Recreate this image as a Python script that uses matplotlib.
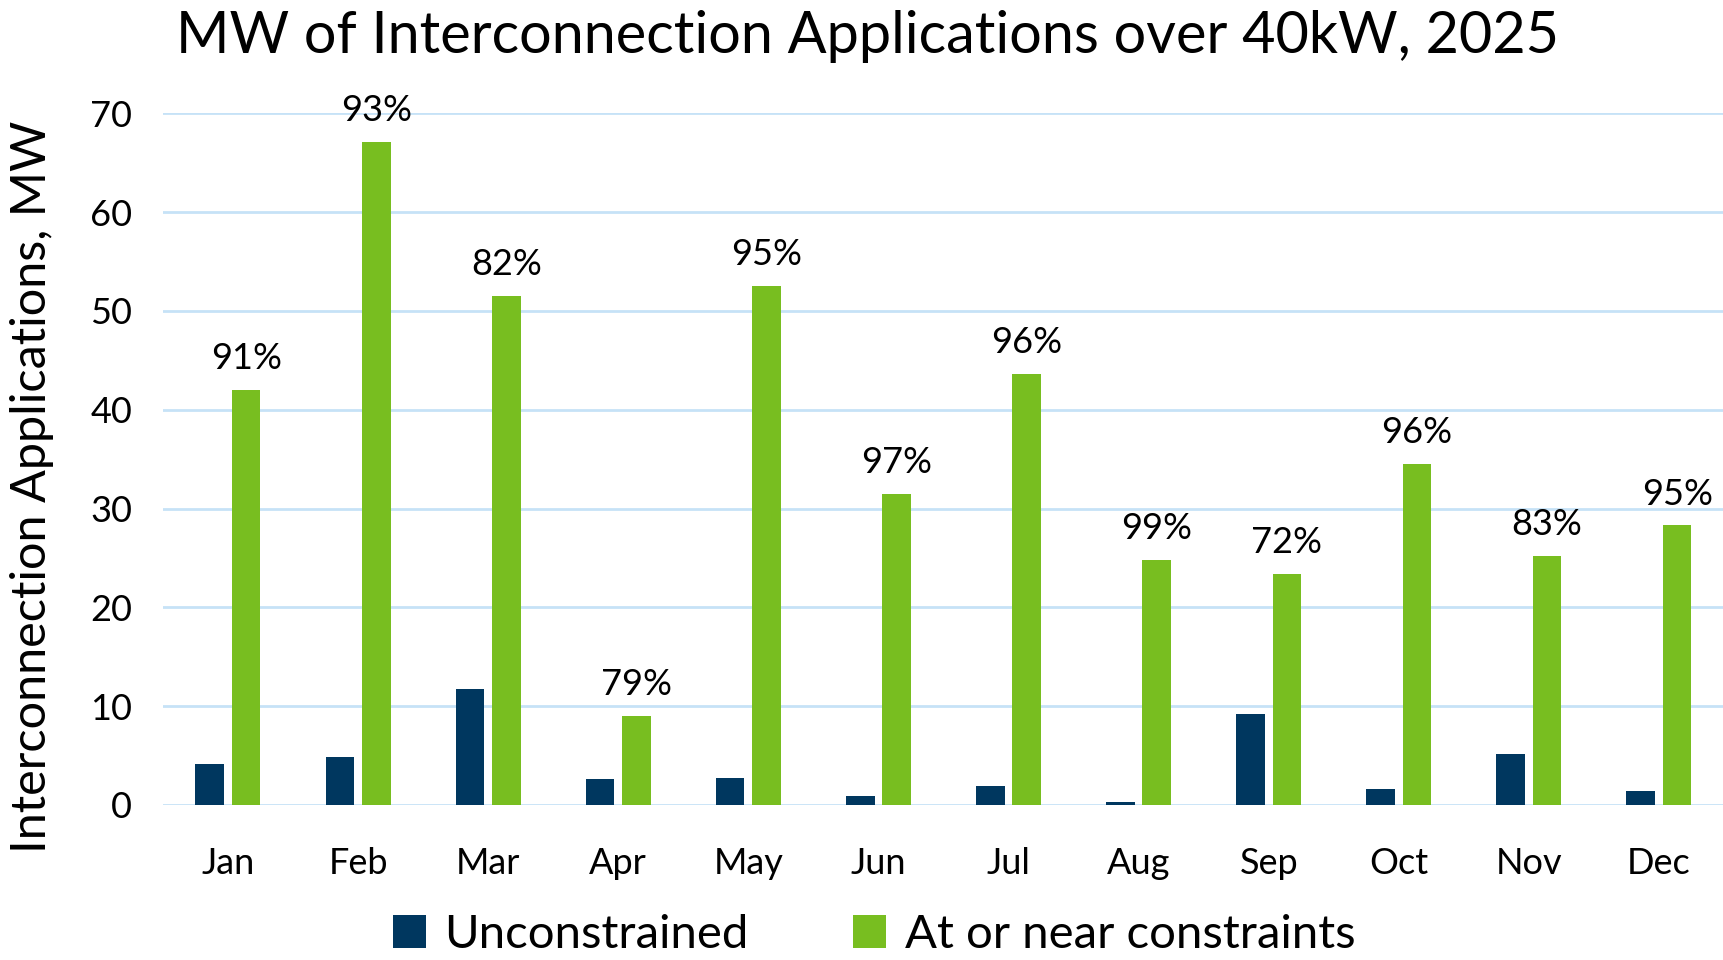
import matplotlib.pyplot as plt
import numpy as np

plt.rcParams['font.family'] = ['Lato', 'DejaVu Sans']

# Dati
months = ['Jan', 'Feb', 'Mar', 'Apr', 'May', 'Jun',
          'Jul', 'Aug', 'Sep', 'Oct', 'Nov', 'Dec']
unconstrained = [4.1, 4.9, 11.7, 2.6, 2.7, 0.9, 1.9, 0.3, 9.2, 1.6, 5.2, 1.4]
constrained = [42.0, 67.1, 51.5, 9.0, 52.5, 31.5, 43.6, 24.8, 23.4, 34.5, 25.2, 28.3]
pct_labels = ['91%', '93%', '82%', '79%', '95%', '97%',
              '96%', '99%', '72%', '96%', '83%', '95%']

dark = '#00375F'
green = '#78BE20'
grid_col = '#C6E2F7'

fig = plt.figure(figsize=(17.24, 9.6), dpi=100)
ax = fig.add_axes([0.0945, 0.1615, 0.9055, 0.7205])

x = np.arange(len(months))
w = 0.22
off = 0.14
ax.bar(x - off, unconstrained, w, color=dark, label='Unconstrained', zorder=3)
ax.bar(x + off, constrained, w, color=green, label='At or near constraints', zorder=3)

# Etichette percentuali sopra le barre verdi
for xi, v, lab in zip(x, constrained, pct_labels):
    ax.text(xi + off, v + 1.5, lab, ha='center', va='bottom', fontsize=26,
            clip_on=False)

ax.set_xlim(-0.5, len(months) - 0.5)
ax.set_ylim(0, 70)
ax.set_yticks(range(0, 71, 10))
ax.set_xticks(x)
ax.set_xticklabels(months)
ax.yaxis.grid(True, color=grid_col, linewidth=2, zorder=0)
ax.set_axisbelow(True)
for s in ax.spines.values():
    s.set_visible(False)
ax.tick_params(axis='both', length=0, labelsize=26)
ax.tick_params(axis='y', pad=22)
ax.tick_params(axis='x', pad=30)

ax.set_ylabel('Interconnection Applications, MW', fontsize=35)
ax.yaxis.set_label_coords(-0.07, 0.46)

fig.suptitle('MW of Interconnection Applications over 40kW, 2025',
             fontsize=41.5, x=0.503, y=0.99)

fig.legend(loc='lower center', ncol=2, frameon=False, fontsize=34,
           bbox_to_anchor=(0.507, -0.04), handlelength=0.7, handleheight=0.7,
           columnspacing=2.2, handletextpad=0.4)

fig.savefig('out.png', dpi=100)
